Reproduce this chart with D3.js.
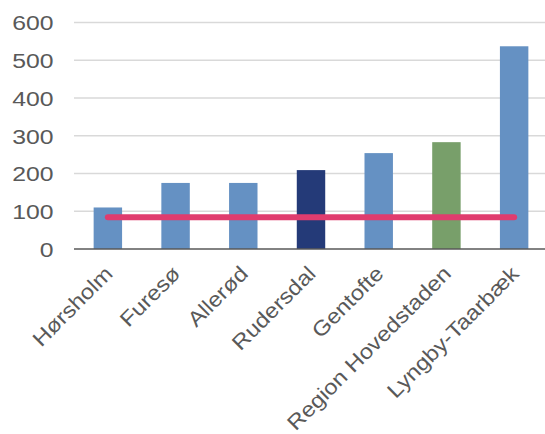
<!DOCTYPE html>
<html>
<head>
<meta charset="utf-8">
<script src="https://cdn.jsdelivr.net/npm/d3@7"></script>
<style>
  html, body { margin: 0; padding: 0; background: #fff; }
  svg { display: block; }
</style>
</head>
<body>
<svg id="chart" width="545" height="434"></svg>
<script>
const categories = ["Hørsholm", "Furesø", "Allerød", "Rudersdal", "Gentofte", "Region Hovedstaden", "Lyngby-Taarbæk"];
const values = [110, 175, 175, 209, 254, 283, 537];
const barColors = ["#6591C3", "#6591C3", "#6591C3", "#243A78", "#6591C3", "#789F6A", "#6591C3"];
const lineValue = 84;
const yTicks = [0, 100, 200, 300, 400, 500, 600];

const svg = d3.select("#chart");
const FONT = "Liberation Sans, Arial, sans-serif";

const x = d3.scaleBand().domain(categories).range([74, 548]).paddingInner(0.58).paddingOuter(0.29);
const y = d3.scaleLinear().domain([0, 600]).range([249, 22.5]);

// gridlines
svg.append("g").selectAll("line").data(yTicks.filter(d => d > 0)).join("line")
  .attr("x1", 74).attr("x2", 545)
  .attr("y1", d => y(d)).attr("y2", d => y(d))
  .attr("stroke", "#d9d9d9").attr("stroke-width", 1.5);

// y axis labels
const yAxis = d3.axisLeft(y).tickValues(yTicks).tickSize(0).tickPadding(0);
const gy = svg.append("g").attr("transform", "translate(53.5,0)").call(yAxis);
gy.select(".domain").remove();
gy.selectAll("text").attr("font-family", FONT)
  .attr("font-size", 21).attr("fill", "#595959")
  .attr("x", 0).attr("dy", "0.35em")
  .attr("transform", "scale(1.18,1)");

// bars
svg.append("g").selectAll("rect").data(categories).join("rect")
  .attr("x", d => x(d)).attr("width", x.bandwidth())
  .attr("y", (d, i) => y(values[i])).attr("height", (d, i) => y(0) - y(values[i]))
  .attr("fill", (d, i) => barColors[i]);

// baseline
svg.append("line").attr("x1", 74).attr("x2", 545).attr("y1", y(0)).attr("y2", y(0))
  .attr("stroke", "#595959").attr("stroke-width", 1.5);

// reference line
const line = d3.line().x(d => x(d) + x.bandwidth() / 2).y(() => y(lineValue));
svg.append("path").datum(categories).attr("d", line)
  .attr("fill", "none").attr("stroke", "#E03C6E").attr("stroke-width", 6)
  .attr("stroke-linecap", "round");

// x axis labels
const xAxis = d3.axisBottom(x).tickSize(0).tickPadding(0);
const gx = svg.append("g").attr("transform", `translate(0,${y(0)})`).call(xAxis);
gx.select(".domain").remove();
gx.selectAll("text")
  .attr("font-family", FONT)
  .attr("font-size", 21).attr("fill", "#595959")
  .attr("text-anchor", "end")
  .attr("dy", null).attr("y", 0)
  .attr("transform", "translate(6,26) rotate(-45) scale(1.13,1)");
</script>
</body>
</html>
